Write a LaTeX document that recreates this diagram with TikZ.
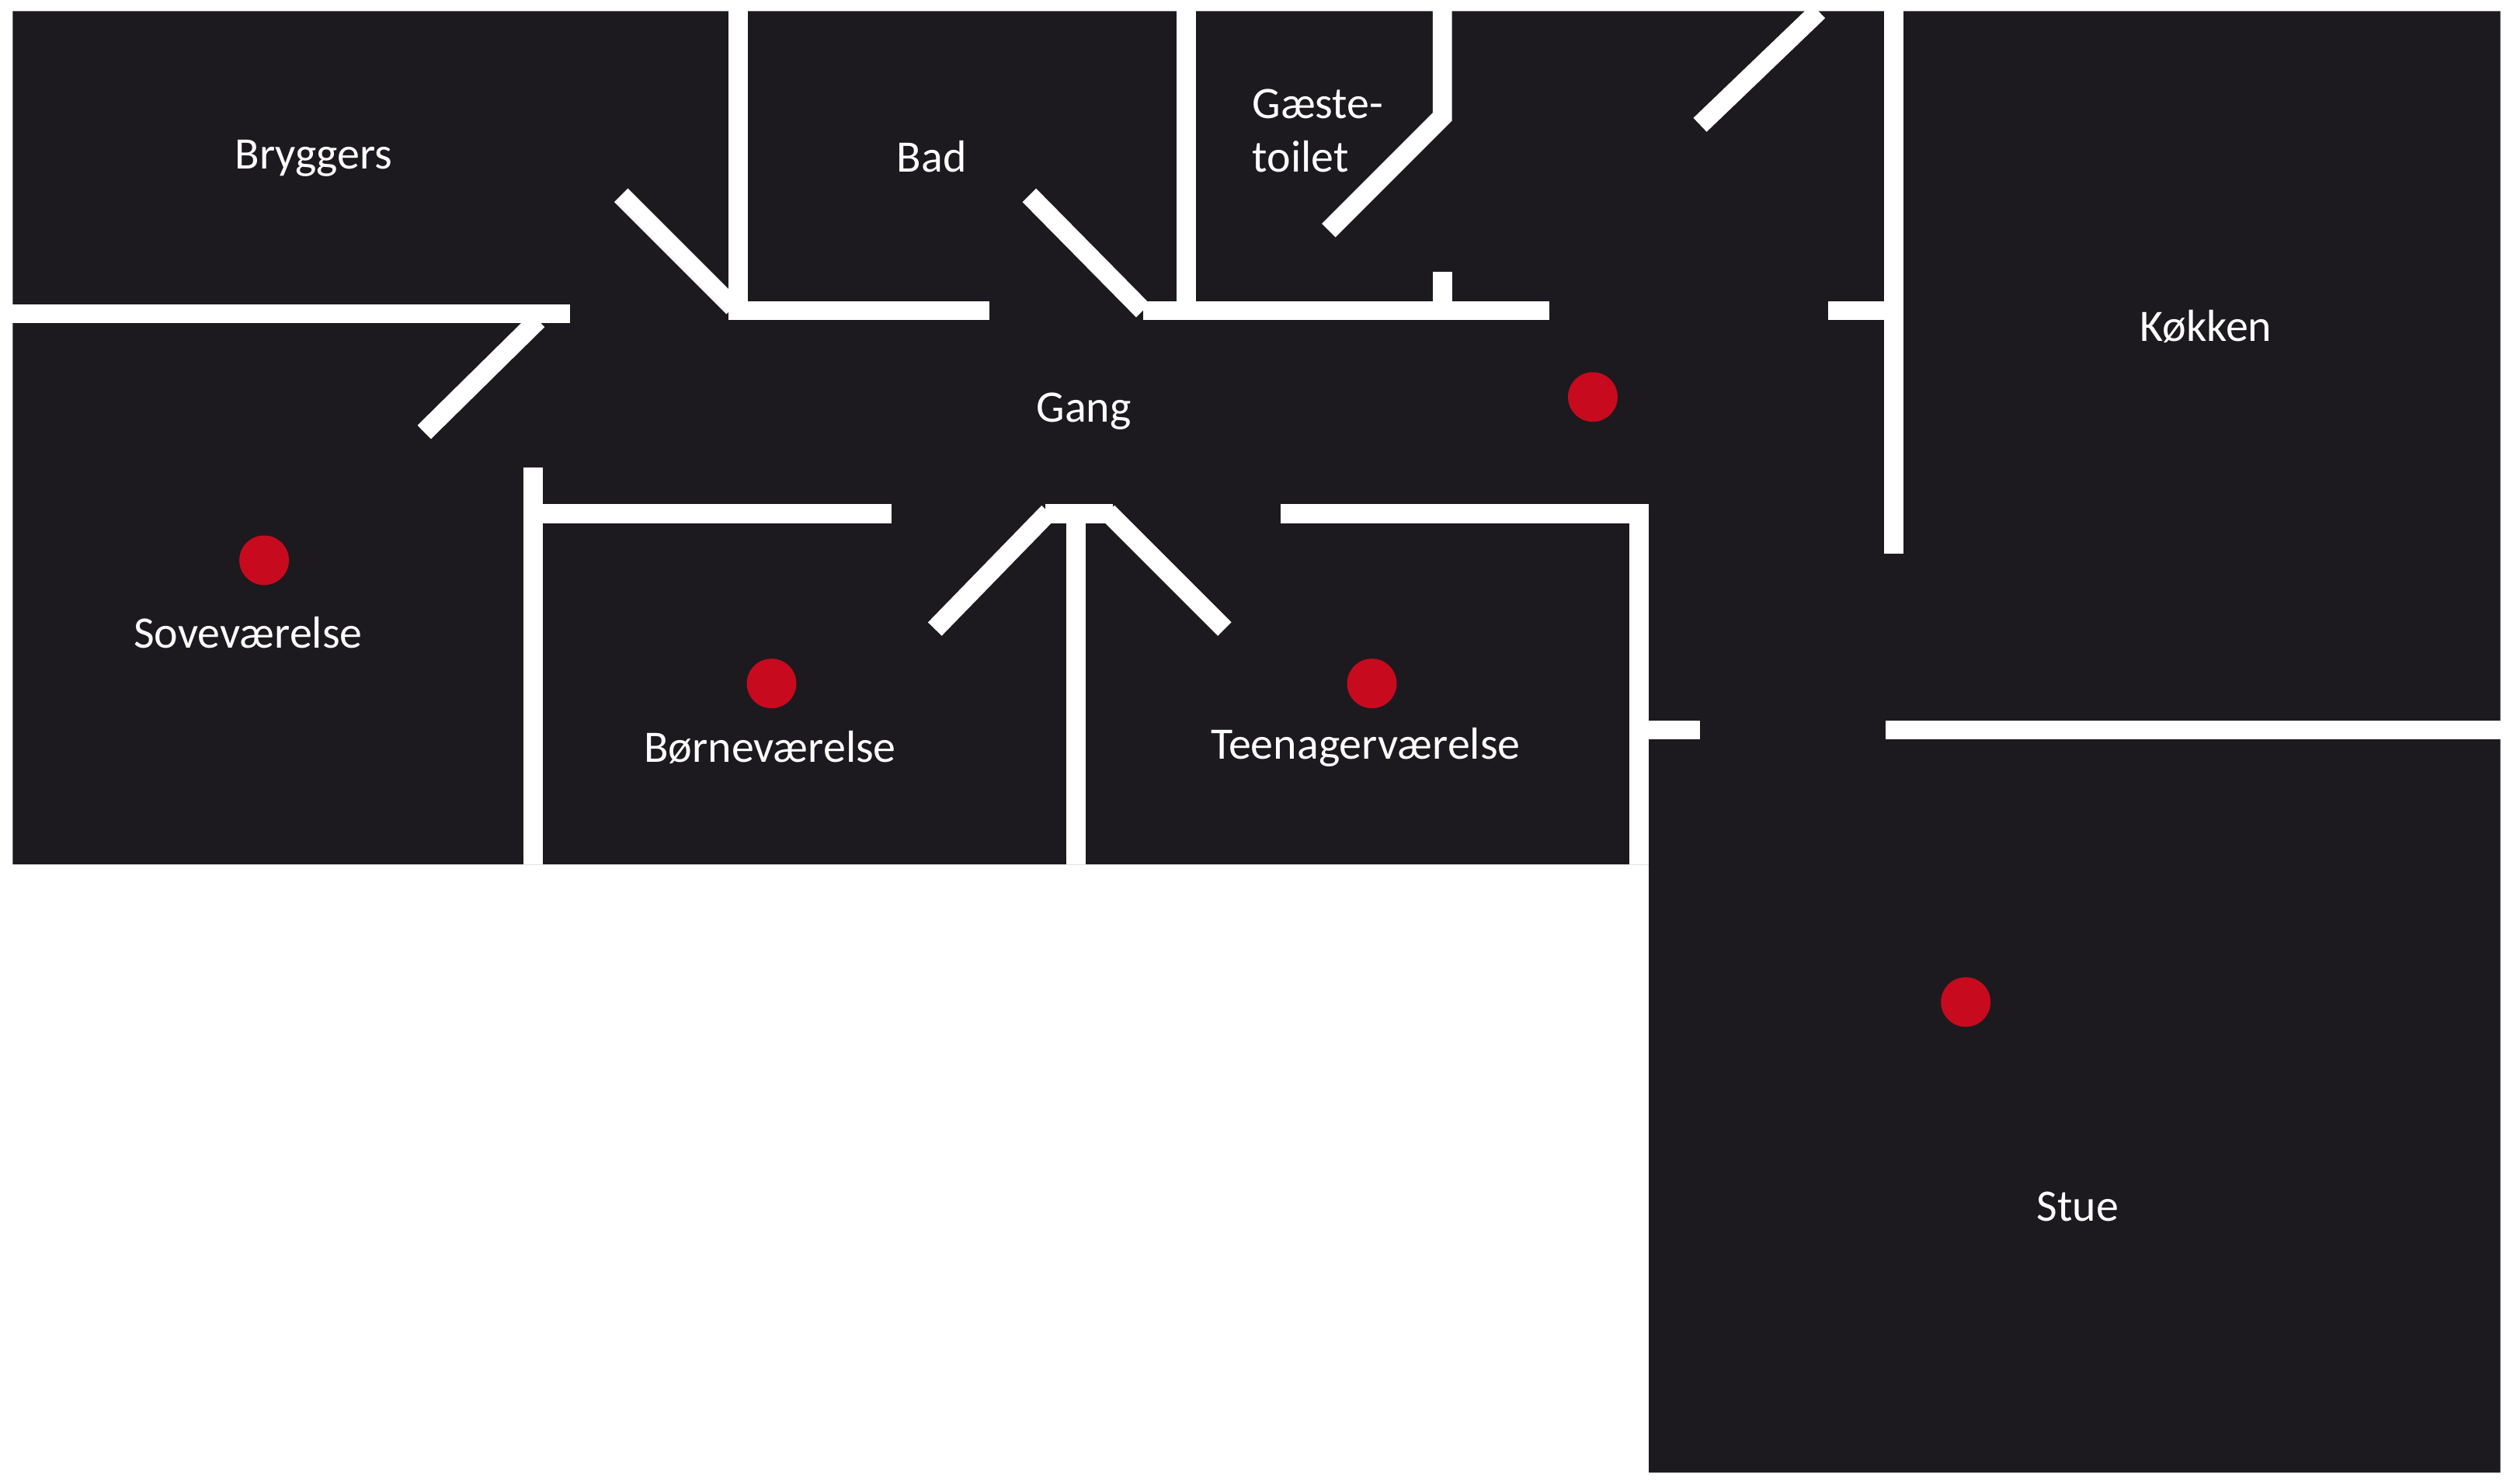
\documentclass[tikz,border=0pt]{standalone}
\usepackage{fontspec}
\setmainfont{Carlito}
\definecolor{floor}{HTML}{1C1A1F}
\definecolor{dot}{HTML}{C80A1E}
\begin{document}
\begin{tikzpicture}[x=0.02cm,y=-0.02cm,
  wall/.style={white,line width=0.24cm},
  reddot/.style={circle,fill=dot,minimum size=0.62cm,inner sep=0pt},
  lbl/.style={text=white,font=\fontsize{16}{18}\selectfont,inner sep=0pt}]
\useasboundingbox (0,0) rectangle (1568,927);
\fill[floor] (8,7) -- (1562,7) -- (1562,920) -- (1030,920) -- (1030,540) -- (8,540) -- cycle;
% walls
\draw[wall] (0,196) -- (356,196);
\draw[wall] (336,200) -- (265,270);
\draw[wall] (461,0) -- (461,196);
\draw[wall] (388,122) -- (458,192);
\draw[wall] (455,194) -- (618,194);
\draw[wall] (643,122) -- (714,194);
\draw[wall] (741,0) -- (741,190);
\draw[wall] (714,194) -- (968,194);
\draw[wall] (901,170) -- (901,190);
\draw[wall] (901,0) -- (901,73) -- (830,144);
\draw[wall] (1136,7) -- (1062,78);
\draw[wall] (1183,0) -- (1183,346);
\draw[wall] (1142,194) -- (1183,194);
\draw[wall] (1178,456) -- (1562,456);
\draw[wall] (1024,456) -- (1062,456);
\draw[wall] (327,321) -- (557,321);
\draw[wall] (333,292) -- (333,540);
\draw[wall] (655,320) -- (584,393);
\draw[wall] (653,321) -- (695,321);
\draw[wall] (672,320) -- (672,540);
\draw[wall] (692,320) -- (765,393);
\draw[wall] (800,321) -- (1030,321);
\draw[wall] (1024,316) -- (1024,540);
% dots
\node[reddot] (d1) at (165,350) {};
\node[reddot] (d2) at (482,427) {};
\node[reddot] (d3) at (857,427) {};
\node[reddot] (d4) at (995,248) {};
\node[reddot] (d5) at (1228,626) {};
% labels
\node[lbl] (l1) at (196,99) {Bryggers};
\node[lbl] (l2) at (582,98) {Bad};
\node[lbl,anchor=west] (l3) at (782,65) {Gæste-};
\node[lbl,anchor=west] (l4) at (782,98) {toilet};
\node[lbl] (l5) at (1378,204) {Køkken};
\node[lbl] (l6) at (677,257) {Gang};
\node[lbl] (l7) at (155,395) {Soveværelse};
\node[lbl] (l8) at (481,467) {Børneværelse};
\node[lbl] (l9) at (853,467) {Teenagerværelse};
\node[lbl] (l10) at (1298,754) {Stue};
\end{tikzpicture}
\end{document}
